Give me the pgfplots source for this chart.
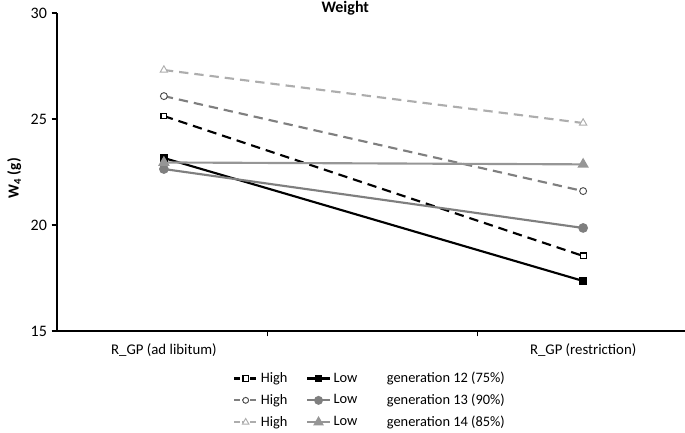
\documentclass[border=0pt]{standalone}
\usepackage{fontspec}
\setmainfont{Carlito}
\usepackage{pgfplots}
\pgfplotsset{compat=1.18}
\definecolor{gxiii}{HTML}{7F7F7F}
\definecolor{gxivh}{HTML}{ADADAD}
\definecolor{gxivl}{HTML}{969696}
\begin{document}
\begin{tikzpicture}
\begin{axis}[name=ax, scale only axis, width=471pt, height=238.5pt,
 xmin=-0.255, xmax=1.243, ymin=15, ymax=30,
 axis x line=bottom, axis y line=left,
 axis line style={-, black, line width=0.8pt},
 ytick={15,20,25,30}, xtick={0.246,0.747}, xticklabels={},
 tick align=outside, major tick length=4pt,
 tick style={black, line width=0.8pt},
 extra x ticks={0,1},
 extra x tick labels={R\_GP (ad libitum), R\_GP (restriction)},
 extra x tick style={major tick length=0pt, tick label style={yshift=-6pt, font=\fontsize{11.1}{13}\selectfont}},
 /pgf/number format/assume math mode=true,
 yticklabel style={font=\fontsize{12}{14}\selectfont},
 title={Weight},
 title style={at={(axis description cs:0.459,1)}, anchor=center, yshift=-2.5pt, font=\bfseries\fontsize{12}{14}\selectfont},
 ylabel={W\textsubscript{4} (g)},
 ylabel style={at={(axis description cs:-0.068,0.48)}, anchor=center, font=\bfseries\fontsize{11.5}{13}\selectfont},
 legend columns=3,
 legend style={draw=none, at={(axis description cs:0.499,-0.112)}, anchor=north,
   font=\fontsize{10.8}{12}\selectfont, row sep=3pt,
   /tikz/every even column/.append style={column sep=12pt},
   /tikz/column 5/.style={column sep=6pt}},
 legend cell align=left,
]
% generation 12
\addplot[black, line width=1.6pt, dash pattern=on 7pt off 4.5pt, mark=square*, mark size=2.2pt, mark options={solid, fill=white, line width=0.8pt}, forget plot] coordinates {(0,25.14) (1,18.54)};
\addplot[black, line width=1.6pt, mark=square*, mark size=2.2pt, mark options={solid, fill=black}, forget plot] coordinates {(0,23.16) (1,17.36)};
% generation 13
\addplot[gxiii, line width=1.6pt, dash pattern=on 7pt off 4.5pt, mark=*, mark size=2.6pt, mark options={solid, fill=white, draw=black!70, line width=0.7pt}, forget plot] coordinates {(0,26.08) (1,21.60)};
\addplot[gxiii, line width=1.6pt, mark=*, mark size=2.8pt, mark options={solid, fill=gxiii}, forget plot] coordinates {(0,22.64) (1,19.86)};
% generation 14
\addplot[gxivh, line width=1.6pt, dash pattern=on 7pt off 4.5pt, mark=triangle*, mark size=3.2pt, mark options={solid, fill=white, draw=gxivh, line width=0.7pt}, forget plot] coordinates {(0,27.31) (1,24.81)};
\addplot[gxivl, line width=1.6pt, mark=triangle*, mark size=3.4pt, mark options={solid, fill=gxivl}, forget plot] coordinates {(0,22.95) (1,22.86)};
% legend
\addlegendimage{black, line width=1.6pt, dash pattern=on 4pt off 2pt, mark=square*, mark size=2pt, mark options={solid, fill=white, line width=0.8pt}}
\addlegendentry{High}
\addlegendimage{black, line width=1.6pt, mark=square*, mark size=2pt, mark options={solid, fill=black}}
\addlegendentry{Low}
\addlegendimage{empty legend}
\addlegendentry{generation 12 (75\%)}
\addlegendimage{gxiii, line width=1.6pt, dash pattern=on 4pt off 2pt, mark=*, mark size=2.2pt, mark options={solid, fill=white, draw=black!70, line width=0.7pt}}
\addlegendentry{High}
\addlegendimage{gxiii, line width=1.6pt, mark=*, mark size=2.5pt, mark options={solid, fill=gxiii}}
\addlegendentry{Low}
\addlegendimage{empty legend}
\addlegendentry{generation 13 (90\%)}
\addlegendimage{gxivh, line width=1.6pt, dash pattern=on 4pt off 2pt, mark=triangle*, mark size=2.8pt, mark options={solid, fill=white, draw=gxivh, line width=0.7pt}}
\addlegendentry{High}
\addlegendimage{gxivl, line width=1.6pt, mark=triangle*, mark size=3pt, mark options={solid, fill=gxivl}}
\addlegendentry{Low}
\addlegendimage{empty legend}
\addlegendentry{generation 14 (85\%)}
\end{axis}
\pgfresetboundingbox
\path ([shift={(-42.75pt,-75.75pt)}]ax.south west) rectangle ([shift={(0pt,9.75pt)}]ax.north east);
\end{tikzpicture}
\end{document}
